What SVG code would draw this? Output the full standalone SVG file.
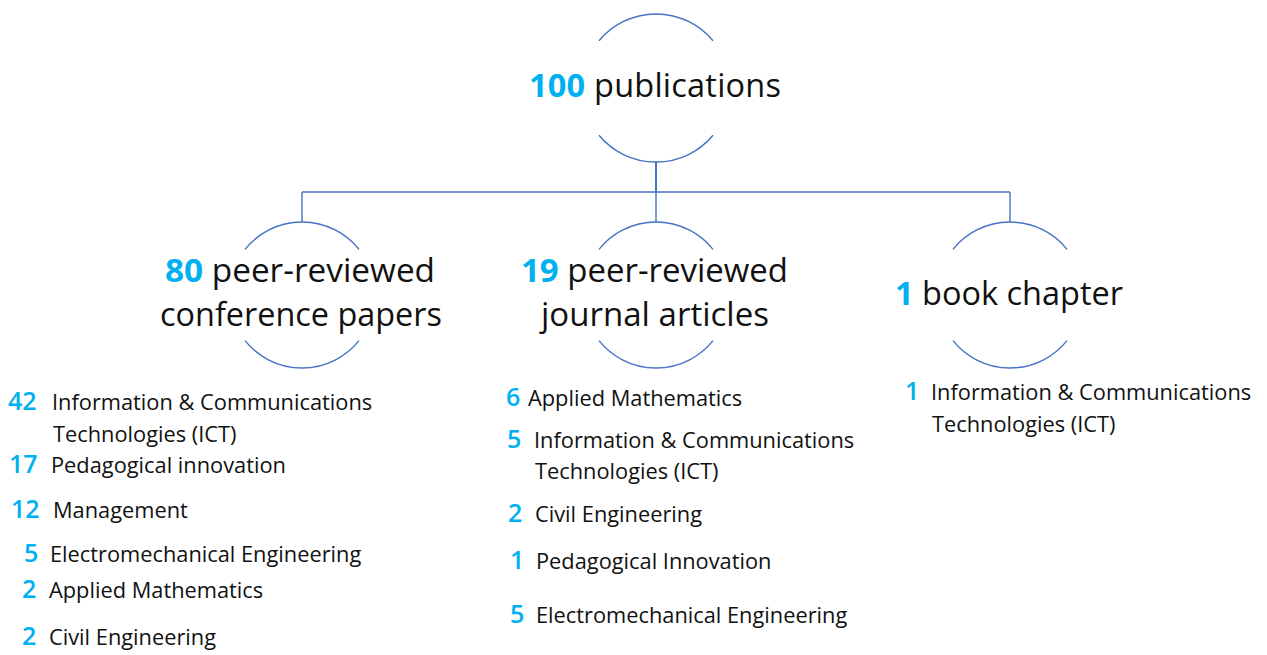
<svg xmlns="http://www.w3.org/2000/svg" width="1267" height="655" viewBox="0 0 1267 655">
<style>
.arc{fill:none;stroke:#4472C4;stroke-width:1.4}
.con{fill:none;stroke:#4472C4;stroke-width:1.4}
.t{font-family:"Open Sans","Liberation Sans",sans-serif;fill:#111}
.n{fill:#00B0F0;font-weight:bold}
.big{font-size:32.5px}
.mid{font-size:32px}
.li{font-size:21.8px}
.num{font-family:"Open Sans","Liberation Sans",sans-serif;font-size:25px;font-weight:600;fill:#00B0F0}
</style>
<rect width="1267" height="655" fill="#fff"/>
<g id="connectors">
<line class="con" x1="656" y1="162" x2="656" y2="192" style="stroke-width:2"/>
<line class="con" x1="302" y1="192" x2="1010" y2="192"/>
<line class="con" x1="302" y1="192" x2="302" y2="222"/>
<line class="con" x1="656" y1="192" x2="656" y2="222"/>
<line class="con" x1="1010" y1="192" x2="1010" y2="222"/>
</g>
<g id="node-publications">
<path class="arc" d="M599,40.8 A74,74 0 0 1 713,40.8"/>
<path class="arc" d="M599,135.2 A74,74 0 0 0 713,135.2"/>
<text class="t big" x="529" y="97" textLength="252"><tspan class="n">100</tspan> publications</text>
</g>
<g id="node-conference">
<path class="arc" d="M245,249.4 A73,73 0 0 1 359,249.4"/>
<path class="arc" d="M245,340.6 A73,73 0 0 0 359,340.6"/>
<text class="t mid" x="165" y="282" textLength="270" lengthAdjust="spacingAndGlyphs"><tspan class="n">80</tspan> peer-reviewed</text>
<text class="t mid" x="160" y="326" textLength="282" lengthAdjust="spacingAndGlyphs">conference papers</text>
</g>
<g id="node-journal">
<path class="arc" d="M599,249.4 A73,73 0 0 1 713,249.4"/>
<path class="arc" d="M599,340.6 A73,73 0 0 0 713,340.6"/>
<text class="t mid" x="521" y="282" textLength="267" lengthAdjust="spacingAndGlyphs"><tspan class="n">19</tspan> peer-reviewed</text>
<text class="t mid" x="541" y="326" textLength="228" lengthAdjust="spacingAndGlyphs">journal articles</text>
</g>
<g id="node-book">
<path class="arc" d="M953,249.4 A73,73 0 0 1 1067,249.4"/>
<path class="arc" d="M953,340.6 A73,73 0 0 0 1067,340.6"/>
<text class="t mid" x="895" y="305" textLength="228" lengthAdjust="spacingAndGlyphs"><tspan class="n">1</tspan> book chapter</text>
</g>
<g id="list-conference">
<text class="num" x="8" y="410">42</text>
<text class="t li" x="52" y="410">Information &amp; Communications</text>
<text class="t li" x="53" y="442">Technologies (ICT)</text>
<text class="num" x="9" y="473">17</text>
<text class="t li" x="51" y="473">Pedagogical innovation</text>
<text class="num" x="11" y="518">12</text>
<text class="t li" x="53" y="518">Management</text>
<text class="num" x="24" y="562">5</text>
<text class="t li" x="50" y="562">Electromechanical Engineering</text>
<text class="num" x="22" y="598">2</text>
<text class="t li" x="49" y="598">Applied Mathematics</text>
<text class="num" x="22" y="645">2</text>
<text class="t li" x="49" y="645">Civil Engineering</text>
</g>
<g id="list-journal">
<text class="num" x="506" y="406">6</text>
<text class="t li" x="528" y="406">Applied Mathematics</text>
<text class="num" x="507" y="448">5</text>
<text class="t li" x="534" y="448">Information &amp; Communications</text>
<text class="t li" x="535" y="479">Technologies (ICT)</text>
<text class="num" x="508" y="522">2</text>
<text class="t li" x="535" y="522">Civil Engineering</text>
<text class="num" x="510" y="569">1</text>
<text class="t li" x="536" y="569">Pedagogical Innovation</text>
<text class="num" x="510" y="623">5</text>
<text class="t li" x="536" y="623">Electromechanical Engineering</text>
</g>
<g id="list-book">
<text class="num" x="905" y="400">1</text>
<text class="t li" x="931" y="400">Information &amp; Communications</text>
<text class="t li" x="932" y="432">Technologies (ICT)</text>
</g>
</svg>
